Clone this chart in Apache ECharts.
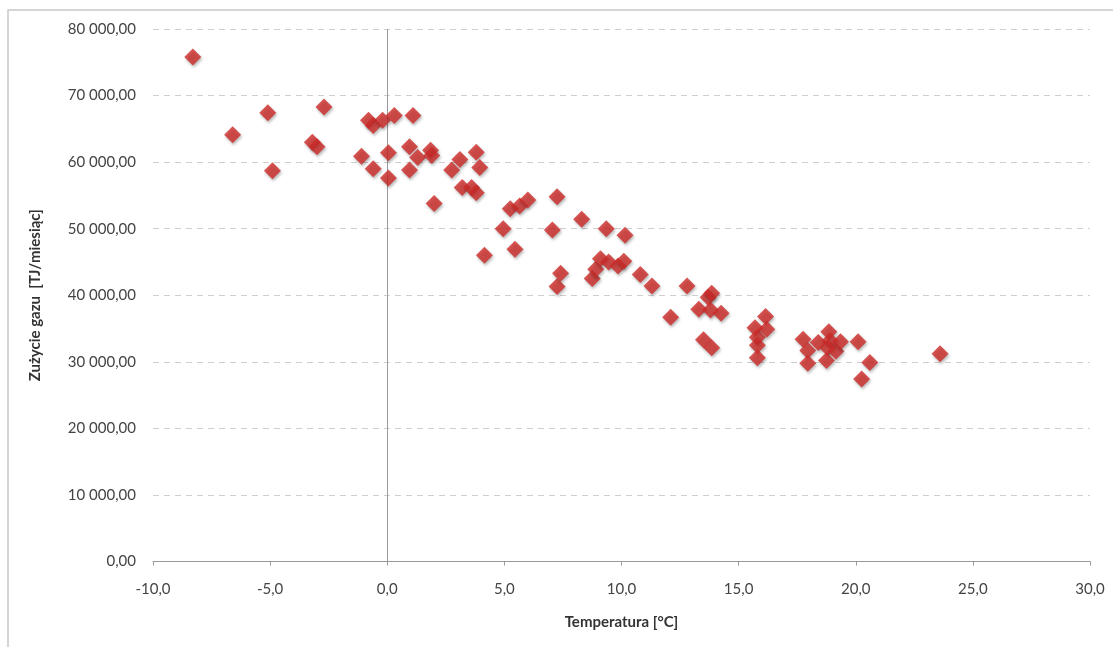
<!DOCTYPE html>
<html>
<head>
<meta charset="utf-8">
<script src="https://cdn.jsdelivr.net/npm/echarts@6/dist/echarts.min.js"></script>
<style>html,body{margin:0;padding:0;background:#fff}#c{width:1113px;height:647px}</style>
</head>
<body>
<div id="c"></div>
<script>
const temperature = [-8.3,-6.6,-5.1,-4.9,-3.2,-3.0,-2.7,-1.1,-0.8,-0.6,-0.6,-0.2,0.05,0.05,0.3,0.95,0.95,1.1,1.3,1.85,1.9,2.0,2.75,3.1,3.2,3.6,3.8,3.8,3.95,4.15,4.95,5.25,5.45,5.65,6.0,7.05,7.25,7.25,7.4,8.3,8.75,8.9,9.1,9.35,9.45,9.85,10.1,10.15,10.8,11.3,12.1,12.8,13.3,13.5,13.7,13.8,13.85,13.85,14.25,15.7,15.8,15.8,15.8,16.15,16.2,17.75,17.95,17.95,18.4,18.85,18.9,18.8,18.75,19.15,19.35,20.1,20.6,20.25,23.6];
const gasUse = [75800,64100,67400,58700,63000,62300,68300,60900,66300,65500,59000,66300,61400,57600,67000,62300,58800,67000,60700,61800,61000,53800,58800,60400,56200,56200,55400,61500,59200,46000,50000,53000,46900,53400,54300,49800,54800,41300,43300,51400,42500,43900,45500,50000,45000,44400,45100,49000,43100,41400,36700,41400,37900,33300,39700,37800,40300,32100,37300,35100,33700,32500,30600,36800,34900,33400,31700,29800,32900,34500,33200,32100,30200,31600,33000,33000,29900,27400,31200];
const xAxisTitle = 'Temperatura [°C]';
const yAxisTitle = 'Zużycie gazu  [TJ/miesiąc]';

const points = temperature.map((t, i) => [t, gasUse[i]]);
const fmtY = v => {
  const s = Math.round(v).toString().replace(/\B(?=(\d{3})+(?!\d))/g, ' ');
  return s + ',00';
};
const fmtX = v => v.toFixed(1).replace('.', ',');
const font = 'Lato, "Open Sans", sans-serif';

const chart = echarts.init(document.getElementById('c'), null, {renderer: 'canvas'});
chart.setOption({
  animation: false,
  backgroundColor: '#fff',
  graphic: [{
    type: 'rect', shape: {x: 8, y: 10, width: 1115, height: 650},
    style: {fill: 'none', stroke: '#c8c8c8', lineWidth: 1.5}, silent: true, z: -1
  }],
  grid: {left: 153, right: 23, top: 29, bottom: 85.5},
  xAxis: {
    type: 'value', min: -10, max: 30, interval: 5,
    name: xAxisTitle, nameLocation: 'middle', nameGap: 53,
    nameTextStyle: {fontFamily: font, fontSize: 15, fontWeight: 'bold', color: '#333'},
    axisLine: {onZero: false, lineStyle: {color: '#9a9a9a', width: 1}},
    axisTick: {show: true, length: 4, lineStyle: {color: '#9a9a9a'}},
    axisLabel: {formatter: fmtX, fontFamily: font, fontSize: 15, color: '#444', margin: 20},
    splitLine: {show: false}
  },
  yAxis: {
    type: 'value', min: 0, max: 80000, interval: 10000,
    name: yAxisTitle, nameLocation: 'middle', nameGap: 110, nameRotate: 90,
    nameTextStyle: {fontFamily: font, fontSize: 15, fontWeight: 'bold', color: '#333'},
    axisLine: {show: false},
    axisTick: {show: false},
    axisLabel: {formatter: fmtY, fontFamily: font, fontSize: 15, color: '#444', margin: 17},
    splitLine: {show: true, lineStyle: {color: '#cfcfcf', type: [6, 5], width: 1.2}}
  },
  series: [{
    type: 'scatter',
    data: points,
    symbol: 'diamond',
    symbolSize: [17, 17],
    itemStyle: {
      color: '#cc2a28',
      shadowBlur: 3, shadowColor: 'rgba(0,0,0,0.35)', shadowOffsetX: 1, shadowOffsetY: 2
    },
    markLine: {
      silent: true, symbol: 'none', animation: false,
      label: {show: false},
      lineStyle: {color: '#9a9a9a', type: 'solid', width: 1},
      data: [{xAxis: 0}],
      z: 1
    },
    z: 3
  }]
});
</script>
</body>
</html>
